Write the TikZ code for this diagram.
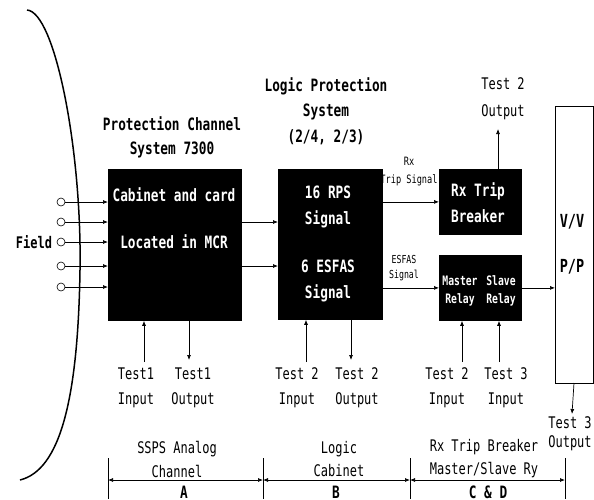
\documentclass[tikz,border=0pt]{standalone}
\usepackage{fontspec}
\setmainfont{DejaVu Sans Mono}[FakeStretch=0.75]
\usetikzlibrary{arrows.meta,positioning}

\tikzset{
  blackbox/.style={fill=black,draw=black,line width=0.8pt,inner sep=0pt,anchor=north west},
  boxtext/.style={text=white,align=center,inner sep=0pt,font=\bfseries\fontsize{17}{26}\selectfont},
  title/.style={align=center,inner sep=0pt,font=\bfseries\fontsize{17}{24}\selectfont},
  testlbl/.style={align=center,inner sep=0pt,font=\fontsize{16}{25}\selectfont},
  siglbl/.style={align=center,inner sep=0pt,font=\fontsize{11}{16}\selectfont},
  arr/.style={-{Latex[length=5pt,width=4pt]},line width=0.7pt},
  dimarr/.style={{Latex[length=5pt,width=4pt]}-{Latex[length=5pt,width=4pt]},line width=0.7pt},
}

\begin{document}
\begin{tikzpicture}[x=1pt,y=-1pt]
  \useasboundingbox (0,0) rectangle (594,499);

  % field boundary
  \draw[line width=1.5pt] (27,10) .. controls (55,12) and (82,150) .. (80,270)
    .. controls (78,400) and (60,470) .. (20,480);

  % blocks
  \node[blackbox,minimum width=133pt,minimum height=151pt] (chan) at (108,169) {};
  \node[blackbox,minimum width=104pt,minimum height=150pt] (logic) at (278,169) {};
  \node[blackbox,minimum width=82pt,minimum height=65pt] (rxtb) at (439,169) {};
  \node[blackbox,minimum width=82pt,minimum height=65pt] (relay) at (439,255) {};
  \node[draw,line width=0.8pt,inner sep=0pt,anchor=north west,
        minimum width=38pt,minimum height=277pt] (vv) at (555,106) {};

  \node[boxtext] (cab) at (174,195) {Cabinet and card};
  \node[boxtext] (mcr) at (174,242) {Located in MCR};
  \node[boxtext] (rps) at (328,207) {16 RPS\\Signal};
  \node[boxtext] (esfas) at (328,281) {6 ESFAS\\Signal};
  \node[boxtext] (rxtxt) at (478,203) {Rx Trip\\Breaker};
  \node[boxtext,font=\bfseries\fontsize{13}{18}\selectfont] (mst) at (460,291) {Master\\Relay};
  \node[boxtext,font=\bfseries\fontsize{13}{18}\selectfont] (slv) at (501,291) {Slave\\Relay};
  \node[title,font=\bfseries\fontsize{18}{24}\selectfont] (vvtxt) at (572,222) {V/V};
  \node[title,font=\bfseries\fontsize{18}{24}\selectfont] (pptxt) at (572,267) {P/P};

  % titles
  \node[title] (chantitle) at (172,137) {Protection Channel\\System 7300};
  \node[title,font=\bfseries\fontsize{17}{25.5}\selectfont] (logictitle) at (326,111) {Logic Protection\\System\\(2/4, 2/3)};

  % field inputs
  \node[font=\bfseries\fontsize{16}{20}\selectfont,inner sep=0pt] (field) at (34,242) {Field};
  \foreach \i/\y in {1/202,2/222,3/242,4/266,5/287} {
    \node[draw,circle,line width=0.6pt,minimum size=8pt,inner sep=0pt] (f\i) at (61,\y) {};
    \draw[arr] (f\i) -- (f\i -| chan.west);
  }

  % signal paths
  \draw[arr] (chan.east |- f2) -- (logic.west |- f2);
  \draw[arr] (chan.east |- f4) -- (logic.west |- f4);
  \draw[arr] (logic.east |- rxtb.west) -- (rxtb.west);
  \draw[arr] (logic.east |- relay.west) -- (relay.west);
  \draw[arr] (relay.east) -- (relay.east -| vv.west);
  \node[siglbl,font=\fontsize{11.5}{18}\selectfont] (rxsig) at (409,172) {Rx\\Trip Signal};
  \node[siglbl,font=\fontsize{11}{15}\selectfont] (esfsig) at (404,268) {ESFAS\\Signal};

  % test points
  \node[testlbl] (t1in) at (136,388) {Test1\\Input};
  \node[testlbl] (t1out) at (193,388) {Test1\\Output};
  \node[testlbl] (t2in) at (297,388) {Test 2\\Input};
  \node[testlbl] (t2out) at (357,388) {Test 2\\Output};
  \node[testlbl] (t2inr) at (447,388) {Test 2\\Input};
  \node[testlbl] (t3inr) at (506,388) {Test 3\\Input};
  \node[testlbl,font=\fontsize{16}{27}\selectfont] (t2outr) at (503,99) {Test 2\\Output};
  \node[testlbl,font=\fontsize{16}{19}\selectfont] (t3out) at (570,434) {Test 3\\Output};

  \coordinate (t1ia) at (144,362);
  \coordinate (t1oa) at (189,360);
  \coordinate (t2ia) at (306,362);
  \coordinate (t2oa) at (351,360);
  \coordinate (t2ra) at (462,362);
  \coordinate (t3ra) at (499,362);
  \coordinate (t2top) at (498,129);
  \coordinate (t3oa) at (572,414);
  \coordinate (t3os) at (574,383);
  \draw[arr] (t1ia) -- (t1ia |- chan.south);
  \draw[arr] (t1oa |- chan.south) -- (t1oa);
  \draw[arr] (t2ia) -- (t2ia |- logic.south);
  \draw[arr] (t2oa |- logic.south) -- (t2oa);
  \draw[arr] (t2ra) -- (t2ra |- relay.south);
  \draw[arr] (t3ra) -- (t3ra |- relay.south);
  \draw[arr] (t2top |- rxtb.north) -- (t2top);
  \draw[arr] (t3os) -- (t3oa);

  % scope dimensions
  \foreach \n/\x in {da/108,db/263,dc/410,dd/565} {
    \coordinate (\n) at (\x,480);
    \draw[line width=0.7pt] (\x,458) -- (\x,499);
  }
  \draw[dimarr] (da) -- (db);
  \draw[dimarr] (db) -- (dc);
  \draw[dimarr] (dc) -- (dd);
  \node[testlbl,font=\fontsize{16}{24}\selectfont] (sspslbl) at (177,459) {SSPS Analog\\Channel};
  \node[testlbl,font=\fontsize{16}{23}\selectfont] (logiclbl) at (339,459) {Logic\\Cabinet};
  \node[testlbl,font=\fontsize{16}{23}\selectfont] (rxlbl) at (484,459) {Rx Trip Breaker\\Master/Slave Ry};
  \node[title,font=\bfseries\fontsize{17}{20}\selectfont] (alb) at (184,492) {A};
  \node[title,font=\bfseries\fontsize{17}{20}\selectfont] (blb) at (336,492) {B};
  \node[title,font=\bfseries\fontsize{17}{20}\selectfont] (cdlb) at (488,492) {C \& D};
\end{tikzpicture}
\end{document}
